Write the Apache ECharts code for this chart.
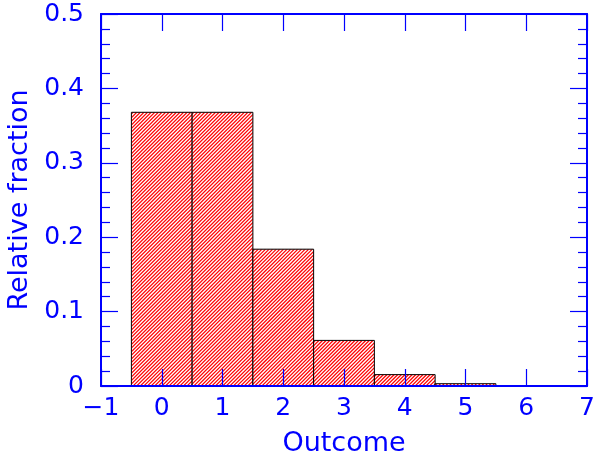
<!DOCTYPE html>
<html><head><meta charset="utf-8">
<script src="https://cdn.jsdelivr.net/npm/echarts@6/dist/echarts.min.js"></script>
<style>html,body{margin:0;padding:0;background:#fff}#c{width:593px;height:458px}</style>
</head><body><div id="c"></div>
<script>
const outcomes = [0, 1, 2, 3, 4, 5, 6, 7];
const fractions = [0.3679, 0.3679, 0.1839, 0.0613, 0.0153, 0.0031, 0.0005, 0.0001];
const xTicks = [-1, 0, 1, 2, 3, 4, 5, 6, 7];
const yTicks = [0, 0.1, 0.2, 0.3, 0.4, 0.5];

const blue = '#0000ff';
const font = 'DejaVu Sans';
const fs = 25;
const baseX = {
  type: 'value', min: -1, max: 7, interval: 1,
  axisLine: {show: true, onZero: false, lineStyle: {color: blue, width: 2}},
  axisTick: {show: true, inside: true, length: 17, lineStyle: {color: blue, width: 1.2}},
  splitLine: {show: false}, z: 5
};
const baseY = {
  type: 'value', min: 0, max: 0.5, interval: 0.1,
  axisLine: {show: true, onZero: false, lineStyle: {color: blue, width: 2}},
  axisTick: {show: true, inside: true, length: 17, lineStyle: {color: blue, width: 1.2}},
  minorTick: {show: true, splitNumber: 5, length: 9, lineStyle: {color: blue, width: 1.2}},
  splitLine: {show: false}, z: 5
};
const chart = echarts.init(document.getElementById('c'));
chart.setOption({
  animation: false,
  grid: {left: 101, right: 6, top: 14, bottom: 72, outerBoundsMode: 'none', containLabel: false},
  xAxis: [
    Object.assign({}, baseX, {position: 'bottom',
      name: 'Outcome', nameLocation: 'middle', nameGap: 44,
      nameTextStyle: {color: blue, fontFamily: font, fontSize: 27},
      axisLabel: {color: blue, fontFamily: font, fontSize: fs, margin: 10, hideOverlap: false,
        formatter: v => xTicks.includes(v) ? (v < 0 ? '\u2212' + (-v) : String(v)) : ''}}),
    Object.assign({}, baseX, {position: 'top', axisLabel: {show: false}})
  ],
  yAxis: [
    Object.assign({}, baseY, {position: 'left',
      name: 'Relative fraction', nameLocation: 'middle', nameGap: 66,
      nameTextStyle: {color: blue, fontFamily: font, fontSize: 27},
      axisLabel: {color: blue, fontFamily: font, fontSize: fs, margin: 17,
        formatter: v => v === 0 ? '0' : v.toFixed(1)}}),
    Object.assign({}, baseY, {position: 'right', axisLabel: {show: false}})
  ],
  series: [{
    type: 'custom', z: 1, clip: true,
    data: outcomes.map((o, i) => [o, fractions[i]]),
    renderItem: function (params, api) {
      const x = api.value(0), y = api.value(1);
      const p0 = api.coord([x - 0.5, y]);
      const p1 = api.coord([x + 0.5, 0]);
      const rx = p0[0], ry = p0[1], w = p1[0] - p0[0], h = p1[1] - p0[1];
      const kids = [{type: 'rect', shape: {x: rx, y: ry, width: w, height: h}, style: {fill: '#ff0000'}}];
      const step = 3.6;
      for (let s = rx - h; s < rx + w; s += step) {
        kids.push({type: 'line', shape: {x1: s, y1: ry + h, x2: s + h, y2: ry},
          style: {stroke: '#ffffff', lineWidth: 1.3}});
      }
      return {
        type: 'group',
        children: [
          {type: 'group', clipPath: {type: 'rect', shape: {x: rx, y: ry, width: w, height: h}}, children: kids},
          {type: 'rect', shape: {x: rx, y: ry, width: w, height: h}, style: {fill: 'none', stroke: '#000', lineWidth: 1}}
        ]
      };
    }
  }]
});
</script></body></html>
